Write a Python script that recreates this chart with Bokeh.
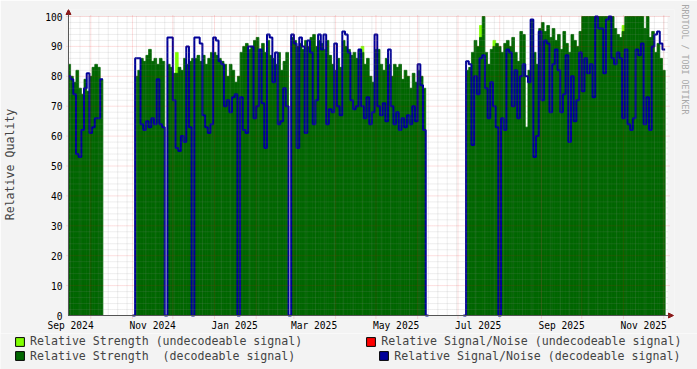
import math
import numpy as np
import pandas as pd
from bokeh.plotting import figure
from bokeh.layouts import column
from bokeh.models import (Range1d, FixedTicker, DatetimeTickFormatter, Legend, LegendItem,
                          Title, Arrow, NormalHead, BoxAnnotation)
from bokeh.embed import file_html
from bokeh.resources import INLINE

N = float("nan")

# ---------------- data (2-day samples starting 2024-09-14) ----------------
sample_start = "2024-09-14"
sample_days = 2

strength_decodeable = [
    84, 80, 78, 82, 76, 74, 79, 75, 80, 83, 84, 83, 79,
    N, N, N, N, N, N, N, N, N, N, N, N,
    80, 82, 86, 85, 87, 89, 85, 86, 84, 86, 85,
    N,
    84, 83, 81, 81, 83, 82, 86, 84, 85, 86, 86, 87, 85, 87, 84, 86, 88,
    88, 87, 86, 85, 84, 80, 84, 82, 78, 80, 88, 90, 91, 89, 90, 92,
    93, 89, 91, 88, 92, 87, 86, 84, 88, 82, 85, 88,
    N,
    93, 92, 90, 91, 89, 92, 90, 93, 94, 90, 92, 91, 89, 92, 87, 84, 82,
    86, 83, 92, 90, 89, 87, 88, 86, 89, 88, 84, 86, 80, 78, 89, 89, 84, 82, 86, 84,
    80, 84, 83, 84, 79, 82, 80, 76, 81, 78, 82, 80, 76,
    N, N, N, N, N, N, N, N, N, N, N, N, N, N, N,
    82, 83, 88, 92, 90, 93, 100, 88, 84, 89, 90, 91,
    90, 88, 91, 92, 90, 93, 88, 85, 95, 94,
    63, 82, 99, 88, 84, 96, 98, 95, 97, 93,
    96, 92, 94, 89, 95, 91, 88, 94, 92, 90,
    95, 100, 100, 100, 100, 100, 100, 100, 100, 100, 100, 100, 100,
    96, 94, 93, 95, 100, 100, 100,
    100, 100, 100, 100, 96, 100, 93, 95, 88, 91, 86, 82,
]

snr_decodeable = [
    80, 79, 74, 54, 53, 62, 76, 81, 61, 63, 66, 66, 79,
    N, N, N, N, N, N, N, N, N, N, N, 0,
    86, 86, 64, 62, 65, 63, 66, 64, 79, 64, 63,
    0,
    93, 93, 72, 56, 55, 60, 58, 90, 63, 0, 93, 93, 91, 67, 63, 61, 64,
    93, 92, 85, 84, 70, 72, 68, 73, 74, 0, 73, 62, 61, 90, 90, 66,
    70, 89, 71, 56, 94, 93, 78, 88, 64, 65, 76, 70,
    0,
    94, 91, 56, 93, 90, 61, 92, 88, 64, 72, 94, 89, 94, 64, 69, 68, 91,
    70, 67, 95, 94, 88, 72, 69, 70, 89, 70, 66, 73, 64, 68, 94, 70, 67, 71, 65, 89,
    70, 64, 68, 62, 66, 63, 67, 64, 70, 65, 84, 77, 62,
    0, N, N, N, N, N, N, N, N, N, N, N, N, N, 0,
    85, 84, 57, 80, 74, 86, 87, 76, 66, 78, 70, 63,
    0, 66, 62, 89, 88, 70, 82, 66, 80, 84,
    80, 78, 99, 53, 60, 95, 72, 92, 91, 68,
    84, 89, 82, 68, 74, 87, 58, 80, 65, 72,
    88, 75, 86, 81, 84, 73, 100, 96, 96, 81, 99, 100, 86,
    84, 88, 86, 66, 89, 64, 62,
    66, 89, 87, 91, 64, 73, 62, 90, 94, 95, 91, 89,
]

# undecodeable strength: only a few samples rise above the decodeable area
undecodeable_index = [40, 109, 153, 158, 206]
strength_undecodeable = [88, 90, 97, 92, 97]

y_ticks = list(range(0, 101, 10))
y_minor = list(range(0, 101, 2))
label_months = ["2024-09-01", "2024-11-01", "2025-01-01", "2025-03-01",
                "2025-05-01", "2025-07-01", "2025-09-01", "2025-11-01"]

legend_labels = [
    "Relative Strength (undecodeable signal)",
    "Relative Signal/Noise (undecodeable signal)",
    "Relative Strength  (decodeable signal)",
    "Relative Signal/Noise (decodeable signal)",
]
watermark = "RRDTOOL / TOBI OETIKER"

# ---------------- helpers ----------------
DAY = 86400000.0
t0 = pd.Timestamp(sample_start).value / 1e6
n = len(strength_decodeable)
t = t0 + np.arange(n + 1) * sample_days * DAY

def ms(s):
    return pd.Timestamp(s).value / 1e6

FONT = "DejaVu Sans Mono"
BG = "#F3F3F3"
C_LGREEN = "#80FF00"
C_DGREEN = "#006600"
C_RED = "#FF0000"
C_BLUE = "#000099"
C_AXIS = "#555555"
C_ARROW = "#8B1A1A"

PXD = 1.3474          # pixels per day
PXU = 2.99            # pixels per unit
cx0 = ms("2024-09-14 10:48")            # canvas start
cx1 = cx0 + 600 / PXD * DAY             # canvas end
dx = lambda px: px / PXD * DAY
dy = lambda px: px / PXU

p = figure(width=697, height=333, x_axis_type="datetime", output_backend="svg",
           toolbar_location=None,
           x_range=Range1d(cx0 - dx(4), cx1 + dx(7)),
           y_range=Range1d(-dy(4), 100 + dy(7)),
           min_border_left=63, min_border_right=23, min_border_top=9, min_border_bottom=14)
p.background_fill_color = BG
p.border_fill_color = BG
p.outline_line_color = None
p.xgrid.visible = False
p.ygrid.visible = False

# white graph canvas
p.add_layout(BoxAnnotation(left=cx0, right=cx1, bottom=0, top=100, fill_color="white",
                           fill_alpha=1, line_color=None, level="underlay"))

# light green (undecodeable strength)
lg_left = [t[i] for i in undecodeable_index]
lg_right = [t[i + 1] for i in undecodeable_index]
p.quad(left=lg_left, right=lg_right, bottom=0, top=strength_undecodeable,
       fill_color=C_LGREEN, line_color=C_LGREEN, line_width=0.8)

# dark green (decodeable strength)
sd = np.array(strength_decodeable, dtype=float)
ok = ~np.isnan(sd)
left = np.maximum(t[:-1][ok], cx0)
p.quad(left=left, right=t[1:][ok], bottom=0, top=sd[ok],
       fill_color=C_DGREEN, line_color=C_DGREEN, line_width=0.8)

# blue step line (decodeable SNR)
bx, by = [], []
for i, v in enumerate(snr_decodeable):
    if math.isnan(v):
        bx.append(N); by.append(N)
    else:
        bx += [max(t[i], cx0), t[i + 1]]
        by += [v, v]
p.line(bx, by, line_color=C_BLUE, line_width=2)

# grid (rrdtool style, drawn over the graph, limited to the canvas)
months = [ms(d) for d in pd.date_range("2024-09-01", "2025-12-01", freq="MS")]
months = [m for m in months if cx0 < m < cx1]
weeks = [ms(d) for d in pd.date_range("2024-09-02", "2025-12-08", freq="W-MON")]
weeks = [w for w in weeks if cx0 < w < cx1]
minor_y = [v for v in y_minor if v % 10]
grid_minor = dict(line_color="#8F8F8F", line_alpha=0.3, line_dash="1 1", line_width=1)
grid_major = dict(line_color="#F00000", line_alpha=0.25, line_dash="1 1", line_width=1)
p.segment(x0=weeks, y0=0, x1=weeks, y1=100, **grid_minor)
p.segment(x0=cx0, y0=minor_y, x1=cx1, y1=minor_y, **grid_minor)
p.segment(x0=months, y0=-dy(3), x1=months, y1=100 + dy(2), **grid_major)
p.segment(x0=cx0 - dx(2), y0=y_ticks[1:], x1=cx1 + dx(2), y1=y_ticks[1:], **grid_major)

# axis lines with arrows
head = dict(size=5, fill_color=C_ARROW, line_color=C_ARROW, line_width=1)
p.add_layout(Arrow(end=NormalHead(**head), x_start=cx0, y_start=0, x_end=cx0,
                   y_end=100 + dy(7), line_color=C_AXIS, line_width=1))
p.add_layout(Arrow(end=NormalHead(**head), x_start=cx0, y_start=0, x_end=cx1 + dx(6),
                   y_end=0, line_color=C_AXIS, line_width=1))

# axes (labels only)
p.xaxis.ticker = FixedTicker(ticks=[ms(d) + 15 * DAY for d in label_months])
fmt = "%b %Y"
p.xaxis.formatter = DatetimeTickFormatter(microseconds=fmt, milliseconds=fmt, seconds=fmt,
                                          minsec=fmt, minutes=fmt, hourmin=fmt, hours=fmt,
                                          days=fmt, months=fmt, years=fmt)
p.yaxis.ticker = FixedTicker(ticks=y_ticks)
for ax in (p.xaxis[0], p.yaxis[0]):
    ax.major_tick_out = 0
    ax.major_tick_in = 0
    ax.minor_tick_out = 0
    ax.minor_tick_in = 0
    ax.axis_line_color = None
    ax.major_label_text_font = FONT
    ax.major_label_text_font_size = "9.6px"
    ax.major_label_text_color = "black"
p.xaxis.major_label_standoff = 0
p.yaxis.major_label_standoff = 2
p.yaxis.axis_label = "Relative Quality"
p.yaxis.axis_label_text_font = FONT
p.yaxis.axis_label_text_font_size = "11.6px"
p.yaxis.axis_label_text_font_style = "normal"
p.yaxis.axis_label_standoff = 25

# watermark on the right
p.add_layout(Title(text=watermark, align="left", text_font=FONT, text_font_size="8.3px",
                   text_color="#A8A8A8", text_font_style="normal", standoff=11, offset=-5),
             "right")

# legend strip
q = figure(width=697, height=36, x_range=Range1d(0, 1), y_range=Range1d(0, 1),
           x_axis_type=None, y_axis_type=None, toolbar_location=None, output_backend="svg",
           min_border_left=0, min_border_right=0, min_border_top=0, min_border_bottom=0)
q.background_fill_color = BG
q.border_fill_color = BG
q.outline_line_color = None
for f in (p, q):
    try:
        f.frame_align = False
    except Exception:
        pass
colors = [C_LGREEN, C_RED, C_DGREEN, C_BLUE]
# off-range placeholder renderers that only provide the legend swatches
dummies = [q.quad(left=[5], right=[6], top=[6], bottom=[5], fill_color=c, line_color="black",
                  line_width=1) for c in colors]
rows = [((0, 1), 63, 21), ((2, 3), 83, 6.5)]
for (a, b), sp, yloc in rows:
    lg = Legend(items=[LegendItem(label=legend_labels[a], renderers=[dummies[a]]),
                       LegendItem(label=legend_labels[b], renderers=[dummies[b]])],
                location=(14, yloc), orientation="horizontal", padding=0, margin=0,
                spacing=sp, glyph_width=11, glyph_height=11, label_height=11,
                label_standoff=5, label_text_font=FONT, label_text_font_size="11.6px",
                background_fill_alpha=0, border_line_alpha=0)
    q.add_layout(lg)

layout = column(p, q, spacing=0)
open("out.html", "w").write(file_html(layout, INLINE))
